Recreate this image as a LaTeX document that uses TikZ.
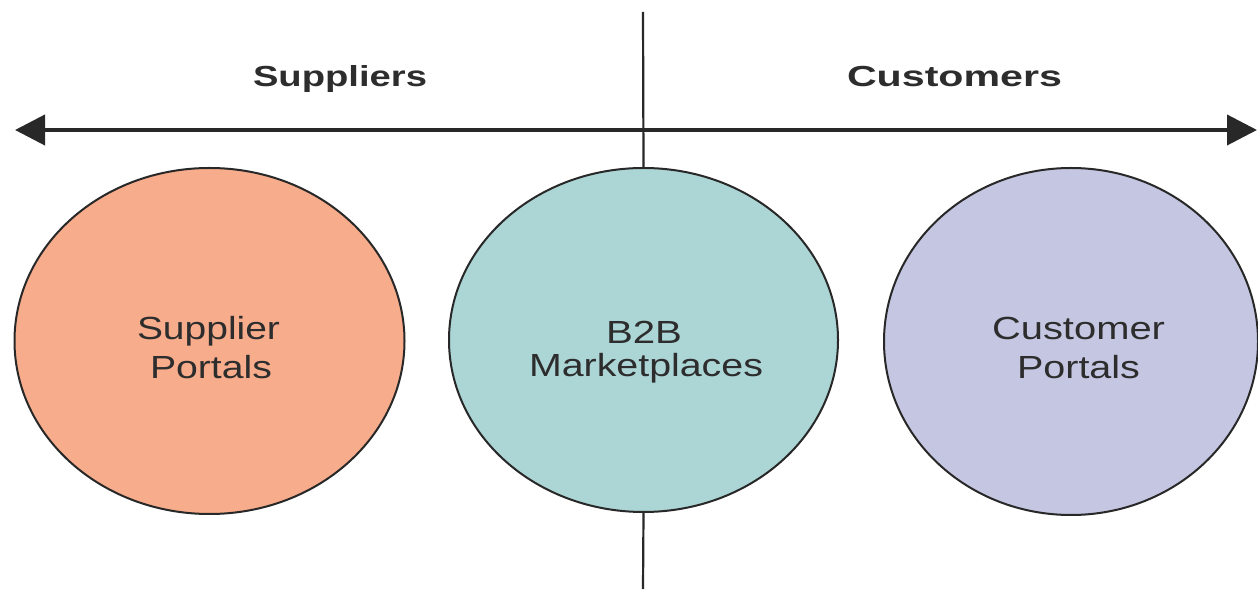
\documentclass[tikz,border=0pt]{standalone}
\usepackage{fontspec}
\setmainfont{Liberation Sans}
\usetikzlibrary{shapes.geometric,arrows.meta}
\definecolor{supfill}{RGB}{247,172,140}
\definecolor{bfill}{RGB}{172,213,214}
\definecolor{cusfill}{RGB}{197,199,226}
\definecolor{edgecol}{RGB}{40,40,40}
\definecolor{txtcol}{RGB}{45,45,45}
\newcommand{\wtext}[2]{\resizebox{#1pt}{\height}{#2}}
\begin{document}
\begin{tikzpicture}[x=1pt,y=1pt,
  blob/.style={ellipse, draw=edgecol, line width=2pt, inner sep=0pt},
  inlabel/.style={anchor=base, inner sep=0pt, text=txtcol, font=\fontsize{32}{32}\selectfont},
  headlabel/.style={anchor=base, inner sep=0pt, text=txtcol, font=\fontsize{29}{29}\selectfont\bfseries},
  axis/.style={draw=edgecol, line width=4pt, {Triangle[length=30pt,width=30pt]}-{Triangle[length=30pt,width=30pt]}},
  divider/.style={draw=edgecol, line width=2.2pt}
]
\useasboundingbox (0,0) rectangle (1258,589);
\fill[white] (0,0) rectangle (1258,589);

% ellipses
\node[blob, fill=supfill, minimum width=390pt, minimum height=346pt] (sup) at (209.5,248) {};
\node[blob, fill=bfill, minimum width=389pt, minimum height=344pt] (b2b) at (643.5,249) {};
\node[blob, fill=cusfill, minimum width=374pt, minimum height=347pt] (cus) at (1071,247.5) {};

% divider
\coordinate (vtop) at (643,577);
\coordinate (vbot) at (643,0);
\draw[divider] (vtop) -- (b2b.north);
\draw[divider] (b2b.south) -- (vbot);

% axis arrow
\coordinate (aL) at (15,459);
\coordinate (aR) at (1257,459);
\draw[axis] (aL) -- (aR);

% headings
\node[headlabel] (hsup) at (340,502) {\wtext{174}{Suppliers}};
\node[headlabel] (hcus) at (954.5,502) {\wtext{215}{Customers}};

% ellipse labels
\node[inlabel] (sup1) at (208.5,249) {\wtext{143}{Supplier}};
\node[inlabel] (sup2) at (211,210) {\wtext{122}{Portals}};
\node[inlabel] (b2b1) at (644,245) {\wtext{76}{B2B}};
\node[inlabel] (b2b2) at (646,212) {\wtext{234}{Marketplaces}};
\node[inlabel] (cus1) at (1078.5,249) {\wtext{173}{Customer}};
\node[inlabel] (cus2) at (1078.5,210) {\wtext{123}{Portals}};
\end{tikzpicture}
\end{document}
